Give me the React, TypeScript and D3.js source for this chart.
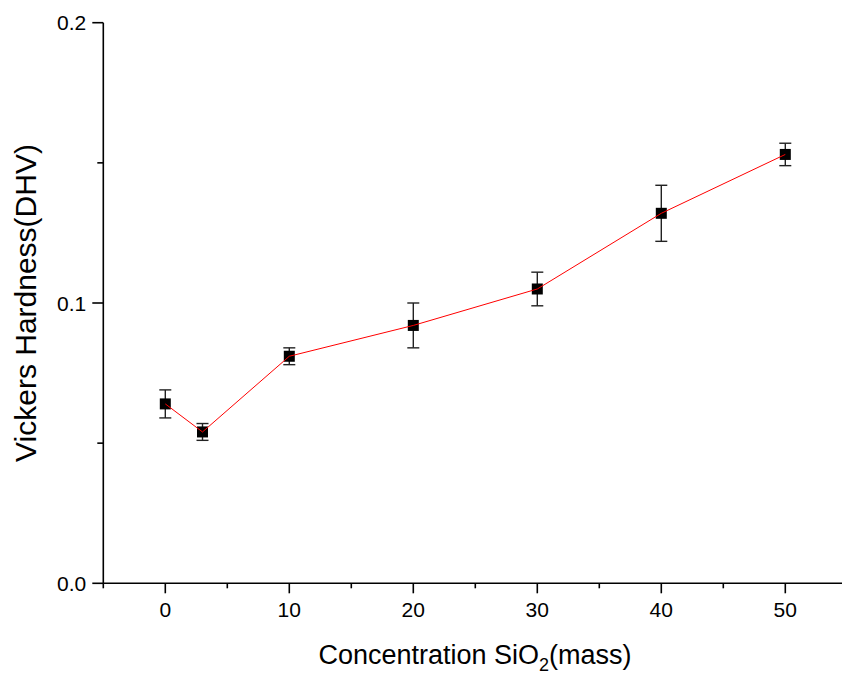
import React from "react";
import * as d3 from "d3";

const concentrations = [0, 3, 10, 20, 30, 40, 50];
const hardness = [0.064, 0.054, 0.081, 0.092, 0.105, 0.132, 0.153];
const errors = [0.005, 0.003, 0.003, 0.008, 0.006, 0.01, 0.004];
const xMajorTicks = [0, 10, 20, 30, 40, 50];
const xMinorTicks = [-5, 5, 15, 25, 35, 45];
const yMajorTicks = [0.0, 0.1, 0.2];
const yMinorTicks = [0.05, 0.15];

const W = 842;
const H = 678;
const FONT = "Arial, 'Liberation Sans', Helvetica, sans-serif";

export default function App() {
  const x = d3.scaleLinear().domain([-5, 55]).range([103.3, 847.3]);
  const y = d3.scaleLinear().domain([0, 0.2]).range([583.3, 22.7]);
  const y0 = y(0);
  const x0 = x(-5);

  const line = d3
    .line<number>()
    .x((_, i) => x(concentrations[i]))
    .y((d) => y(d));

  const sq = 11;
  const cap = 6;

  return (
    <svg
      width={W}
      height={H}
      style={{ position: "absolute", left: 0, top: 0, background: "#fff" }}
      fontFamily={FONT}
    >
      <rect x={0} y={0} width={W} height={H} fill="#fff" />
      {/* axes */}
      <line x1={x0} x2={W} y1={y0} y2={y0} stroke="#000" strokeWidth={1.6} />
      <line x1={x0} x2={x0} y1={y(0.2)} y2={y0} stroke="#000" strokeWidth={1.6} />
      {xMajorTicks.map((t) => (
        <g key={"xm" + t}>
          <line x1={x(t)} x2={x(t)} y1={y0} y2={y0 + 10} stroke="#000" strokeWidth={1.6} />
          <text x={x(t)} y={y0 + 34} textAnchor="middle" fontSize={21} fill="#000">
            {t}
          </text>
        </g>
      ))}
      {xMinorTicks.map((t) => (
        <line key={"xn" + t} x1={x(t)} x2={x(t)} y1={y0} y2={y0 + 5} stroke="#000" strokeWidth={1.6} />
      ))}
      {yMajorTicks.map((t) => (
        <g key={"ym" + t}>
          <line x1={x0 - 11} x2={x0} y1={y(t)} y2={y(t)} stroke="#000" strokeWidth={1.6} />
          <text x={x0 - 17} y={y(t) + 7.5} textAnchor="end" fontSize={21} fill="#000">
            {t.toFixed(1)}
          </text>
        </g>
      ))}
      {yMinorTicks.map((t) => (
        <line key={"yn" + t} x1={x0 - 6} x2={x0} y1={y(t)} y2={y(t)} stroke="#000" strokeWidth={1.6} />
      ))}
      {/* error bars */}
      {concentrations.map((c, i) => {
        const cx = x(c);
        const top = y(hardness[i] + errors[i]);
        const bot = y(hardness[i] - errors[i]);
        return (
          <g key={"e" + i} stroke="#222" strokeWidth={1.4}>
            <line x1={cx} x2={cx} y1={top} y2={bot} />
            <line x1={cx - cap} x2={cx + cap} y1={top} y2={top} />
            <line x1={cx - cap} x2={cx + cap} y1={bot} y2={bot} />
          </g>
        );
      })}
      {/* markers */}
      {concentrations.map((c, i) => (
        <rect
          key={"s" + i}
          x={x(c) - sq / 2}
          y={y(hardness[i]) - sq / 2}
          width={sq}
          height={sq}
          fill="#000"
        />
      ))}
      <path d={line(hardness) || ""} fill="none" stroke="#ff0000" strokeWidth={1} />
      {/* titles */}
      <text x={475} y={664} textAnchor="middle" fontSize={27} fill="#000">
        Concentration SiO
        <tspan fontSize={18} dy={7}>2</tspan>
        <tspan dy={-7}>(mass)</tspan>
      </text>
      <text
        transform={`translate(36, ${303}) rotate(-90)`}
        textAnchor="middle"
        fontSize={30}
        fill="#000"
      >
        Vickers Hardness(DHV)
      </text>
    </svg>
  );
}
